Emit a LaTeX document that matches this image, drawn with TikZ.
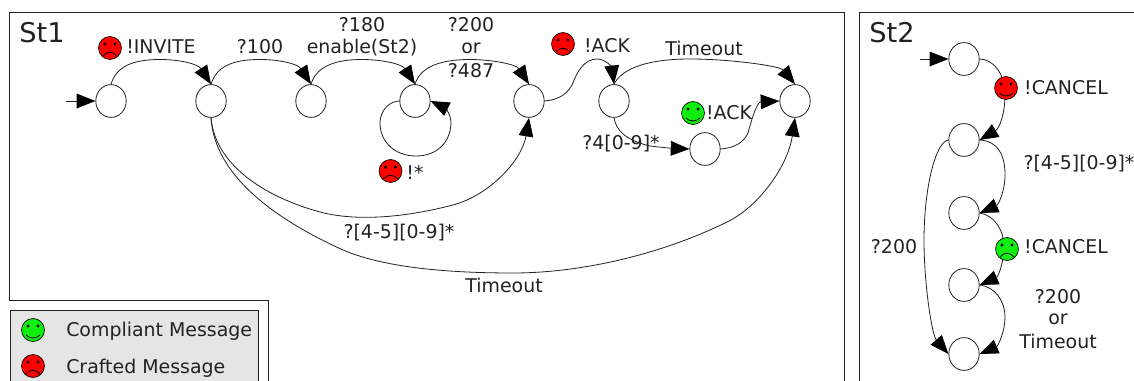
\documentclass[tikz,border=0pt]{standalone}
\usepackage{fontspec}
\setmainfont{DejaVu Sans}
\usetikzlibrary{arrows.meta,shapes.geometric}
\definecolor{ink}{HTML}{222222}
\definecolor{facered}{HTML}{FF0000}
\definecolor{facegreen}{HTML}{10EE10}
\tikzset{
  stt/.style={draw=ink,fill=white,ellipse,inner sep=0pt,minimum width=22.8pt,minimum height=24.6pt,line width=.6pt},
  edge/.style={draw=ink,line width=.6pt,-{Triangle[length=14pt,width=11pt,color=black]}},
  lab/.style={text=ink,font=\fontsize{14.2}{17}\selectfont,inner sep=0pt,align=center},
  title/.style={text=ink,font=\fontsize{20.4}{24}\selectfont,inner sep=0pt},
  frame/.style={draw=ink,line width=.7pt},
  facedisc/.style={circle,draw=black,line width=.5pt,inner sep=0pt,minimum size=17.2pt},
  sadface/.pic={\node[facedisc,fill=#1] {};
    \fill[black] (-5,-4) circle[radius=1.6] (5,-4) circle[radius=1.6];
    \draw[black,line width=.6pt] (-7,8) .. controls (-3,3) and (3,3) .. (7,8);},
  happyface/.pic={\node[facedisc,fill=#1] {};
    \fill[black] (-5,-4) circle[radius=1.6] (5,-4) circle[radius=1.6];
    \draw[black,line width=.6pt] (-7,5) .. controls (-3,9) and (3,9) .. (7,5);},
}
\begin{document}
\begin{tikzpicture}[x=0.75pt,y=-0.75pt]
\useasboundingbox (0,0) rectangle (1134,381);
\clip (0,0) rectangle (1134,381);
\fill[white] (0,0) rectangle (1134,381);
% frames
\draw[frame] (844.5,385) -- (844.5,12.5) -- (9.5,12.5) -- (9.5,300.5) -- (268.5,300.5) -- (268.5,385);
\draw[frame] (1140,12.5) -- (859.5,12.5) -- (859.5,385);
\draw[frame,fill=black!10] (10.5,310.5) rectangle (258,385);
\node[title] (t1) at (42,33) {St1};
\node[title] (t2) at (892,33) {St2};
% St1 states
\node[stt] (a1) at (111,101) {};
\node[stt] (a2) at (211,101) {};
\node[stt] (a3) at (311,101) {};
\node[stt] (a4) at (415,101) {};
\node[stt] (a5) at (529,101) {};
\node[stt] (a6) at (614,101) {};
\node[stt] (a7) at (705,149) {};
\node[stt] (a8) at (795,101) {};
% St2 states
\node[stt] (b1) at (964,59) {};
\node[stt] (b2) at (964,140) {};
\node[stt] (b3) at (964,213) {};
\node[stt] (b4) at (964,285) {};
\node[stt] (b5) at (964,354) {};
\coordinate (ia) at (66,101);
\coordinate (ib) at (920,59);
% St1 edges
\draw[edge] (ia) -- (a1.west);
\draw[edge] (a1.north) .. controls (116,68) and (130,59.5) .. (160,59.5) .. controls (180,59.5) and (198,64) .. (a2.north);
\draw[edge] (a2.north) .. controls (216,68) and (230,59.5) .. (260,59.5) .. controls (280,59.5) and (298,64) .. (a3.north);
\draw[edge] (a3.north) .. controls (316,68) and (332,59.5) .. (362,59.5) .. controls (382,59.5) and (402,64) .. (a4.north);
\draw[edge] (a4.north) .. controls (420,68) and (438,59.5) .. (470,59.5) .. controls (490,59.5) and (516,64) .. (a5.north);
\draw[edge] (a4.west) .. controls (390,101) and (380,110) .. (380,123) .. controls (380,142) and (395,156) .. (416,156) .. controls (437,156) and (451,142) .. (451,122) .. controls (451,115) and (445,108) .. (a4.east);
\draw[edge] (a5.east) .. controls (556,100) and (566,96) .. (572,85) .. controls (577,72) and (584,59) .. (597,59) .. controls (606,59) and (612,68) .. (a6.north);
\draw[edge] (a6.north) .. controls (620,72) and (640,59) .. (690,59) .. controls (730,59) and (780,66) .. (a8.north);
\draw[edge] (a6.south) .. controls (616,130) and (625,140) .. (650,146) .. controls (662,147.5) and (675,148.5) .. (a7.west);
\draw[edge] (a7.east) .. controls (735,148) and (744,142) .. (748,133) .. controls (752,118) and (757,102) .. (a8.west);
\draw[edge] (a2.south) .. controls (215,165) and (265,197) .. (320,212) .. controls (350,220) and (395,220) .. (453,205) .. controls (490,195) and (522,160) .. (a5.south);
\draw[edge] (a2.south) .. controls (214,165) and (255,210) .. (343,250) .. controls (385,268) and (450,273) .. (513,273) .. controls (580,273) and (660,255) .. (727,222) .. controls (760,206) and (788,165) .. (a8.south);
% St2 edges
\draw[edge] (ib) -- (b1.west);
\draw[edge] (b1.east) .. controls (992,59) and (1005,72) .. (1005,95) .. controls (1005,112) and (1000,128) .. (b2.east);
\draw[edge] (b2.east) .. controls (998,141) and (1005,155) .. (1005,175) .. controls (1005,192) and (998,205) .. (b3.east);
\draw[edge] (b3.east) .. controls (994,215) and (1004,230) .. (1004,247) .. controls (1004,262) and (998,277) .. (b4.east);
\draw[edge] (b4.east) .. controls (996,287) and (1005,302) .. (1005,317) .. controls (1005,332) and (998,346) .. (b5.east);
\draw[edge] (b2.west) .. controls (935,142) and (924,190) .. (924,240) .. controls (924,285) and (932,335) .. (b5.west);
% faces
\pic (f1) at (110,48) {sadface=facered};
\pic (f2) at (390.5,171) {sadface=facered};
\pic (f3) at (563,44) {sadface=facered};
\pic (f4) at (693,113) {happyface=facegreen};
\pic (f5) at (1006,88) {happyface=facered};
\pic (f6) at (1007,249) {sadface=facegreen};
\pic (f7) at (33,330) {happyface=facegreen};
\pic (f8) at (33,366) {sadface=facered};
% labels
\node[lab] (l1) at (161,47) {!INVITE};
\node[lab] (l2) at (260,47) {?100};
\node[lab] (l3) at (362,25) {?180};
\node[lab] (l4) at (362,48) {enable(St2)};
\node[lab] (l5) at (471,25) {?200};
\node[lab] (l6) at (471,48) {or};
\node[lab] (l7) at (471,71) {?487};
\node[lab] (l8) at (607,46) {!ACK};
\node[lab] (l9) at (704,48) {Timeout};
\node[lab] (l10) at (729,113) {!ACK};
\node[lab] (l11) at (621,144) {?4[0-9]*};
\node[lab] (l12) at (415,172) {!*};
\node[lab] (l13) at (399,233) {?[4-5][0-9]*};
\node[lab] (l14) at (504,285) {Timeout};
\node[lab] (l15) at (1066,88) {!CANCEL};
\node[lab] (l16) at (1079,164) {?[4-5][0-9]*};
\node[lab] (l17) at (1066,247) {!CANCEL};
\node[lab] (l18) at (894,247) {?200};
\node[lab] (l19) at (1058,297) {?200};
\node[lab] (l20) at (1058,319) {or};
\node[lab] (l21) at (1058,341) {Timeout};
\node[lab,anchor=base west] (l22) at (66,336) {Compliant Message};
\node[lab,anchor=base west] (l23) at (66,373) {Crafted Message};
\end{tikzpicture}
\end{document}
